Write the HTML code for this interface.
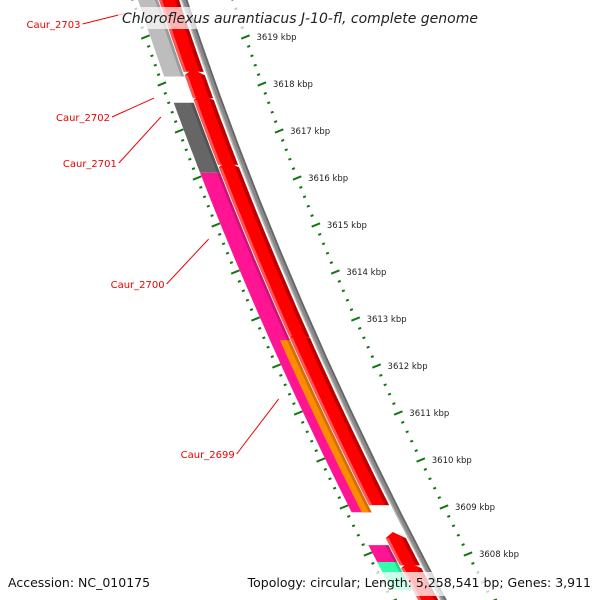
<!DOCTYPE html>
<html><head><meta charset="utf-8"><style>
html,body{margin:0;padding:0;background:#fff;}
svg{display:block;font-family:"DejaVu Sans","Liberation Sans",sans-serif;}
</style></head><body>
<svg id="map" width="600" height="600" viewBox="0 0 600 600" xmlns="http://www.w3.org/2000/svg">
<rect width="600" height="600" fill="#fff"/>
<g id="ticks"></g>
<g id="features"></g>
<g id="labels"></g>
<rect x="118" y="7" width="364" height="22" fill="#fff" opacity="0.7"/>
<text x="300" y="23" text-anchor="middle" font-size="14" font-style="italic" fill="#222">Chloroflexus aurantiacus J-10-fl, complete genome</text>
<rect x="0" y="572" width="600" height="24" fill="#fff" opacity="0.75"/>
<text x="8" y="587" font-size="12.5" fill="#111">Accession: NC_010175</text>
<text x="591" y="587" text-anchor="end" font-size="12.5" fill="#111">Topology: circular; Length: 5,258,541 bp; Genes: 3,911</text>
</svg>
<script>
// data
const tickKbp = [3620,3619,3618,3617,3616,3615,3614,3613,3612,3611,3610,3609,3608,3607];
const tickLabels = ["3620 kbp","3619 kbp","3618 kbp","3617 kbp","3616 kbp","3615 kbp","3614 kbp","3613 kbp","3612 kbp","3611 kbp","3610 kbp","3609 kbp","3608 kbp","3607 kbp"];
const fwdStarts = [3619.9, 3618.19, 3617.66, 3616.23, 3612.60, 3608.34, 3607.70];
const fwdEnds   = [3618.26, 3617.70, 3616.28, 3612.62, 3609.04, 3607.76, 3606.9];
const revStarts = [3619.9, 3617.60, 3616.11, 3612.55, 3608.19, 3607.83];
const revEnds   = [3618.16, 3616.11, 3608.89, 3608.89, 3607.80, 3607.23];
const revColors = ["#bdbdbd","#666666","#ff1493","#ff8c00","#ff1493","#33ffaa"];
const revHalf   = [0,0,0,1,0,0];
const geneNames = ["Caur_2703","Caur_2702","Caur_2701","Caur_2700","Caur_2699"];
const geneKbp   = [3619.5, 3617.70, 3617.3, 3614.7, 3611.3];
const labelY    = [24, 117, 163, 284, 454];

const NS="http://www.w3.org/2000/svg";
function yOf(k){return 37+(3619-k)*47;}
function bx(y){return 184+0.33*y+0.00017*y*y;}
function mk(tag,attrs,parent){const e=document.createElementNS(NS,tag);for(const a in attrs)e.setAttribute(a,attrs[a]);parent.appendChild(e);return e;}
function strip(y1,y2,o1,o2,tip){
  const pts=[];const n=12;
  for(let i=0;i<=n;i++){const y=y1+(y2-y1)*i/n;pts.push([bx(y)+o1,y]);}
  for(let i=n;i>=0;i--){const y=y1+(y2-y1)*i/n;pts.push([bx(y)+o2,y]);}
  if(tip){pts.push([bx(y1-6)+(o1+o2)/2,y1-6]);}
  return pts.map(p=>p[0].toFixed(1)+","+p[1].toFixed(1)).join(" ");
}
const F=document.getElementById('features');
// backbone
let bb=mk('polygon',{points:strip(-10,620,-3,3),fill:'#8a8a8a'},F);


mk('polygon',{points:strip(-10,620,1.5,3.5),fill:'#666'},F);
mk('polygon',{points:strip(-10,620,-3,-1.5),fill:'#b5b5b5'},F);
// forward genes
for(let i=0;i<fwdStarts.length;i++){
  const y1=yOf(fwdStarts[i]),y2=yOf(fwdEnds[i]);
  const g=mk('g',{},F);
  
  
  mk('polygon',{points:strip(y1,y2,-25,-5,i>0),fill:'#ff0000'},g);
  mk('polygon',{points:strip(y1,y2,-9,-5,false),fill:'#c00000'},g);
  mk('polygon',{points:strip(y1,y2,-25,-22,false),fill:'#ff5555'},g);
}
// reverse genes
for(let i=0;i<revStarts.length;i++){
  const y1=yOf(revStarts[i]),y2=yOf(revEnds[i]);
  const o1=revHalf[i]?-36:-46, o2=-26;
  const g=mk('g',{},F);
  
  
  mk('polygon',{points:strip(y1,y2,o1,o2,false),fill:revColors[i]},g);
  mk('polygon',{points:strip(y1,y2,o2-3,o2,false),fill:'#000',opacity:0.18},g);
}
// ticks
const T=document.getElementById('ticks');
const perp=[1/Math.hypot(1,0.4),-0.4/Math.hypot(1,0.4)];
function tick(y,off,len,w){const x=bx(y)+off;
  return mk('line',{x1:x-perp[0]*len/2,y1:y-perp[1]*len/2,x2:x+perp[0]*len/2,y2:y+perp[1]*len/2,stroke:'#117711','stroke-width':w},T);}
for(let i=0;i<tickKbp.length;i++){
  for(let s=0;s<5;s++){
    const k=tickKbp[i]-s*0.2;const y=yOf(k);
    if(y<-10||y>610)continue;
    const major=s===0;
    const a=tick(y,-51,major?9:3,2);
    
    
    const b=tick(y,49,major?9:3,2);
    
    
    if(major&&y>20&&y<570){
      const t=mk('text',{x:bx(y)+60,y:y+3,'font-size':8.5,fill:'#222'},T);
      t.textContent=tickLabels[i];
      
      
    }
  }
}
// gene labels
const L=document.getElementById('labels');
for(let i=0;i<geneNames.length;i++){
  const ly=labelY[i];const fy=yOf(geneKbp[i]);const fx=bx(fy)-64;
  const t=mk('text',{x:fx-44,y:ly+4,'font-size':10,fill:'#ee0000','text-anchor':'end'},L);
  t.textContent=geneNames[i];
  
  
  const ln=mk('line',{x1:fx-42,y1:ly,x2:fx,y2:fy,stroke:'#ee0000','stroke-width':1},L);
  
  
}
</script>
</body></html>
